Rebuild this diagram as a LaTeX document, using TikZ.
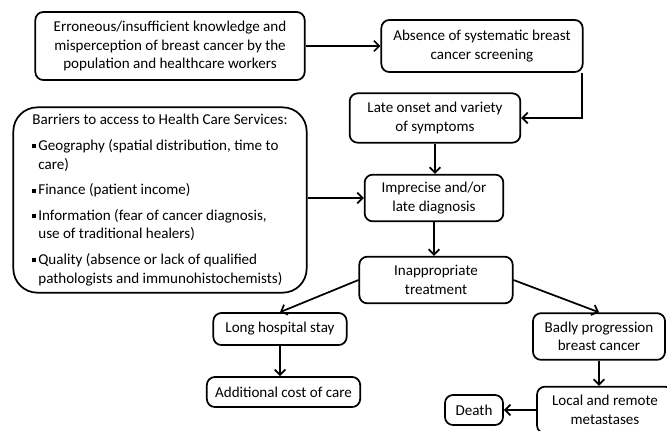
\documentclass[tikz,border=0pt]{standalone}
\usepackage{fontspec}
\setmainfont{Carlito}
\usetikzlibrary{arrows.meta,positioning}

% small square bullet used in the barriers list
\newcommand{\sqbul}{\rule[0.3ex]{3pt}{3pt}\hspace{1.5pt}}
\newcommand{\sqind}{\hspace{4.5pt}}

\begin{document}
\begin{tikzpicture}[
    x=0.75pt, y=-0.75pt,
    font=\fontsize{11.3}{13.8}\selectfont,
    % box style
    causebox/.style={
        draw=black,
        line width=1.3pt,
        rounded corners=6pt,
        fill=white,
        align=center,
        inner sep=2pt
    },
    % large box with list
    listbox/.style={
        draw=black,
        line width=1.3pt,
        rounded corners=18pt,
        align=left,
        inner sep=2pt
    },
    % connector style
    flow/.style={
        line width=1.3pt,
        -{Straight Barb[length=4pt,width=8pt]}
    }
]
    \useasboundingbox (0,0) rectangle (667,430);

    % --- 1. top row ---
    \node[causebox, minimum width=202pt, minimum height=51pt] (err) at (170,46)
        {Erroneous/insufficient knowledge and\\misperception of breast cancer by the\\population and healthcare workers};
    \node[causebox, minimum width=151pt, minimum height=39pt] (absence) at (482,46)
        {Absence of systematic breast\\cancer screening};

    % --- 2. middle column ---
    \node[causebox, minimum width=128pt, minimum height=37pt] (late) at (435,118)
        {Late onset and variety\\of symptoms};
    \node[causebox, minimum width=104pt, minimum height=35pt] (imprecise) at (434,198)
        {Imprecise and/or\\late diagnosis};
    \node[causebox, minimum width=115pt, minimum height=35pt] (treat) at (436,280)
        {Inappropriate\\treatment};

    % barriers box
    \node[listbox, minimum width=220pt, minimum height=139pt] (barriers) at (160,200) {
        Barriers to access to Health Care Services:\\[5.5pt]
        \sqbul Geography (spatial distribution, time to\\
        \sqind care)\\[5.5pt]
        \sqbul Finance (patient income)\\[5.5pt]
        \sqbul Information (fear of cancer diagnosis,\\
        \sqind use of traditional healers)\\[5.5pt]
        \sqbul Quality (absence or lack of qualified\\
        \sqind pathologists and immunohistochemists)
    };

    % --- 3. consequences ---
    \node[causebox, minimum width=100pt, minimum height=24pt] (stay) at (280,329)
        {Long hospital stay};
    \node[causebox, minimum width=115pt, minimum height=22.5pt] (cost) at (283.5,392)
        {Additional cost of care};
    \node[causebox, minimum width=99pt, minimum height=35pt] (badly) at (599,336.5)
        {Badly progression\\breast cancer};
    \node[causebox, minimum width=102pt, minimum height=35pt] (local) at (605,410)
        {Local and remote\\metastases};
    \node[causebox, minimum width=43.5pt, minimum height=22.5pt] (death) at (474,410)
        {Death};

    % --- 4. connectors ---
    \draw[flow] (err.east) -- (err.east -| absence.west);
    \draw[flow] ([xshift=-1pt]absence.south east) |- (late.east);
    \draw[flow] (late.south) -- (late.south |- imprecise.north);
    \draw[flow] (barriers.east |- imprecise.west) -- (imprecise.west);
    \draw[flow] (imprecise.south) -- (imprecise.south |- treat.north);
    \draw[flow] (treat.west) -- (stay.north);
    \draw[flow] (treat.east) -- (badly.north);
    \draw[flow] (stay.south) -- (stay.south |- cost.north);
    \draw[flow] (badly.south) -- (badly.south |- local.north);
    \draw[flow] (local.west) -- (death.east);

\end{tikzpicture}
\end{document}
